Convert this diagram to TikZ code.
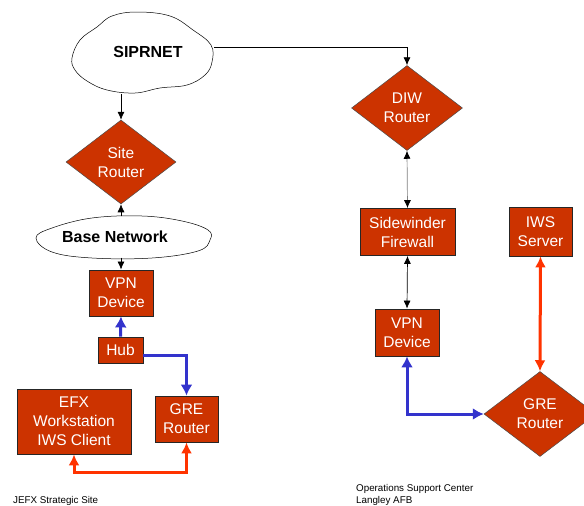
\documentclass[tikz,border=0pt]{standalone}
\usepackage{fontspec}
\setmainfont{Liberation Sans}
\usetikzlibrary{shapes.geometric,arrows.meta}

\definecolor{boxred}{RGB}{204,51,0}
\definecolor{tunblue}{RGB}{51,51,204}
\definecolor{tunred}{RGB}{255,51,0}

\tikzset{
  box/.style={rectangle, draw=black!85, line width=0.8pt, fill=boxred, text=white,
    align=center, inner sep=0pt, font=\fontsize{15.5}{19}\selectfont},
  router/.style={diamond, aspect=1, draw=black!70, line width=0.5pt, fill=boxred, text=white,
    align=center, inner sep=0pt, font=\fontsize{15.5}{19}\selectfont},
  net/.style={ellipse, inner sep=0pt, font=\fontsize{16}{19}\bfseries\selectfont},
  puff/.style={draw, line width=0.5pt, smooth cycle, tension=0.65},
  note/.style={inner sep=0pt, align=left, font=\fontsize{9.8}{12.5}\selectfont}
}

\begin{document}
\begin{tikzpicture}[x=1pt, y=-1pt]
    \useasboundingbox (0,0) rectangle (584,506);

    % cloud outlines
    \draw[puff] plot coordinates {(72,58) (80,40) (97,27) (112,16) (137,12) (170,16)
      (193,30) (211,45) (212,62) (205,75) (187,85) (160,88) (135,93) (107,90) (87,81) (75,70)};
    \draw[puff] plot coordinates {(36,238) (52,228) (92,218) (142,216) (182,221) (208,230)
      (210,240) (198,251) (152,258) (92,258) (52,252)};

    % site side
    \node[net, minimum width=132pt, minimum height=80pt] (sip) at (148,52) {SIPRNET};
    \node[router, minimum width=110pt, minimum height=84pt] (site) at (121,162) {Site\\Router};
    \node[net, minimum width=160pt, minimum height=41pt] (base) at (115,237) {Base Network};
    \node[box, minimum width=64pt, minimum height=46pt] (vpnL) at (121,293) {VPN\\Device};
    \node[box, minimum width=45pt, minimum height=26pt] (hub) at (120.5,350) {Hub};
    \node[box, minimum width=63pt, minimum height=46pt] (greL) at (186.5,419) {GRE\\Router};
    \node[box, minimum width=114pt, minimum height=65pt] (efx) at (74,421.5) {EFX\\Workstation\\IWS Client};

    % operations center side
    \node[router, minimum width=111pt, minimum height=85pt] (diw) at (407,108) {DIW\\Router};
    \node[box, minimum width=95pt, minimum height=47pt] (side) at (407.5,232) {Sidewinder\\Firewall};
    \node[box, minimum width=63pt, minimum height=49pt] (iws) at (540.5,231.5) {IWS\\Server};
    \node[box, minimum width=64pt, minimum height=47pt] (vpnR) at (407,332.5) {VPN\\Device};
    \node[router, minimum width=112pt, minimum height=85pt] (greR) at (540,414) {GRE\\Router};

    \node[note, anchor=north west] (jefx) at (13,496) {JEFX Strategic Site};
    \node[note, anchor=north west] (osc) at (356,484) {Operations Support Center\\Langley AFB};

    \draw[-{Latex[length=8pt,width=7pt]}, line width=0.7pt]
    ([yshift=5pt]sip.east) -| (diw.north);
    \draw[-{Latex[length=8pt,width=7pt]}, line width=0.7pt]
    ([yshift=-2pt]site.north |- sip.south) -- (site.north);
    \draw[-{Latex[length=8pt,width=7pt]}, line width=0.7pt]
    (site.south |- base.north) -- (site.south);
    \draw[-{Latex[length=8pt,width=7pt]}, line width=0.7pt]
    (vpnL.north |- base.south) -- (vpnL.north);

    \draw[{Latex[length=8pt,width=7pt,black]}-{Latex[length=8pt,width=7pt,black]}, gray, line width=0.7pt]
    (diw.south) -- (side.north);
    \draw[{Latex[length=8pt,width=7pt]}-{Latex[length=8pt,width=7pt]}, line width=0.7pt]
    (side.south) -- (vpnR.north);

    \draw[-{Latex[length=11pt,width=12pt]}, tunblue, line width=3pt]
    (hub.north) -- (vpnL.south);
    \draw[-{Latex[length=11pt,width=12pt]}, tunblue, line width=3pt]
    ([yshift=-5pt]hub.east) -| (greL.north);
    \draw[{Latex[length=11pt,width=12pt]}-{Latex[length=11pt,width=12pt]}, tunblue, line width=3pt]
    (vpnR.south) |- (greR.west);

    \draw[{Latex[length=11pt,width=11pt]}-{Latex[length=11pt,width=11pt]}, tunred, line width=3pt]
    (efx.south) -- ++(0,18) -| (greL.south);
    \draw[{Latex[length=11pt,width=11pt]}-{Latex[length=11pt,width=11pt]}, tunred, line width=3pt]
    (iws.south) -- (greR.north);

  \end{tikzpicture}
\end{document}
